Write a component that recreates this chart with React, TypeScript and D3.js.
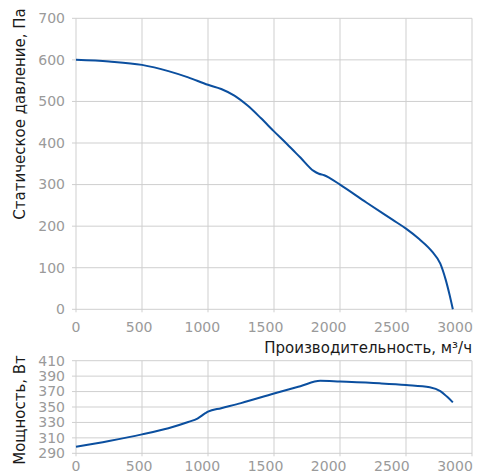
import * as d3 from "d3";

// Статическое давление, Па
const pressureFlow = [0, 250, 500, 700, 850, 1000, 1100, 1200, 1300, 1400, 1500, 1600, 1700, 1800, 1840, 1880, 1920, 2000, 2200, 2400, 2500, 2600, 2700, 2760, 2800, 2830, 2855];
const pressureVals = [600, 596, 588, 573, 558, 540, 530, 514, 490, 460, 428, 397, 365, 333, 326, 322.5, 316, 300, 257, 215, 194, 169, 138, 110, 72, 35, 0];

// Мощность, Вт
const powerFlow = [0, 250, 500, 700, 850, 920, 980, 1000, 1100, 1250, 1500, 1700, 1850, 2000, 2300, 2500, 2680, 2760, 2810, 2855];
const powerVals = [298.5, 306, 314.5, 322.5, 330.5, 335, 342, 344, 348.5, 355, 367.5, 377, 384, 383, 380.7, 378.5, 375.5, 370.5, 363.5, 356];

const xTicks = [0, 500, 1000, 1500, 2000, 2500, 3000];
const pTicks = [0, 100, 200, 300, 400, 500, 600, 700];
const wTicks = [290, 310, 330, 350, 370, 390, 410];

const W = 478;
const H = 473;
const left = 76;
const right = 472;
const gridColor = "#cfcfcf";
const tickColor = "#9a9a9a";
const lineColor = "#0b4f9f";
const font = "DejaVu Sans, sans-serif";

const App = () => {
    const x = d3.scaleLinear().domain([0, 3000]).range([left, right]);
    // labels sit slightly left of the gridlines in the original
    const xLab = d3.scaleLinear().domain([0, 3000]).range([left, 455]);
    const yP = d3.scaleLinear().domain([0, 700]).range([309.3, 18.3]);
    const yW = d3.scaleLinear().domain([290, 410]).range([453.3, 360.7]);

    const pLine = d3.line<number>()
        .x((d, i) => x(pressureFlow[i]))
        .y((d) => yP(d))
        .curve(d3.curveMonotoneX);
    const wLine = d3.line<number>()
        .x((d, i) => x(powerFlow[i]))
        .y((d) => yW(d))
        .curve(d3.curveMonotoneX);

    const grid = (yScale, ticks, y0, y1, keyp) => (
        <g key={keyp}>
            {xTicks.map((t) => (
                <line key={"v" + t} x1={x(t)} x2={x(t)} y1={y1} y2={y0 + 3} stroke={gridColor} strokeWidth={1} />
            ))}
            {ticks.map((t) => (
                <line key={"h" + t} x1={left - 4} x2={right} y1={yScale(t)} y2={yScale(t)} stroke={gridColor} strokeWidth={1} />
            ))}
        </g>
    );

    return (
        <svg width={W} height={H} style={{ position: "absolute", left: 0, top: 0 }} fontFamily={font}>
            <rect width={W} height={H} fill="#fff" />
            {grid(yP, pTicks, yP(0), yP(700), "gp")}
            {grid(yW, wTicks, yW(290), yW(410), "gw")}

            {pTicks.map((t) => (
                <text key={t} x={65} y={yP(t)} dy="0.35em" textAnchor="end" fontSize={14} fill={tickColor}>{t}</text>
            ))}
            {wTicks.map((t) => (
                <text key={t} x={65} y={yW(t)} dy="0.35em" textAnchor="end" fontSize={14} fill={tickColor}>{t}</text>
            ))}
            {xTicks.map((t) => (
                <text key={"a" + t} x={xLab(t)} y={327.5} dy="0.35em" textAnchor="middle" fontSize={14} fill={tickColor}>{t}</text>
            ))}
            {xTicks.map((t) => (
                <text key={"b" + t} x={xLab(t)} y={466} dy="0.35em" textAnchor="middle" fontSize={14} fill={tickColor}>{t}</text>
            ))}

            <path d={pLine(pressureVals)} fill="none" stroke={lineColor} strokeWidth={2} />
            <path d={wLine(powerVals)} fill="none" stroke={lineColor} strokeWidth={2} />

            <text x={right} y={348} dy="0.35em" textAnchor="end" fontSize={15} fill="#1a1a1a">Производительность, м³/ч</text>
            <text transform="translate(20,114) rotate(-90)" dy="0.35em" textAnchor="middle" fontSize={15} fill="#1a1a1a">Статическое давление, Па</text>
            <text transform="translate(20,410) rotate(-90)" dy="0.35em" textAnchor="middle" fontSize={15} fill="#1a1a1a">Мощность, Вт</text>
        </svg>
    );
};

export default App;
